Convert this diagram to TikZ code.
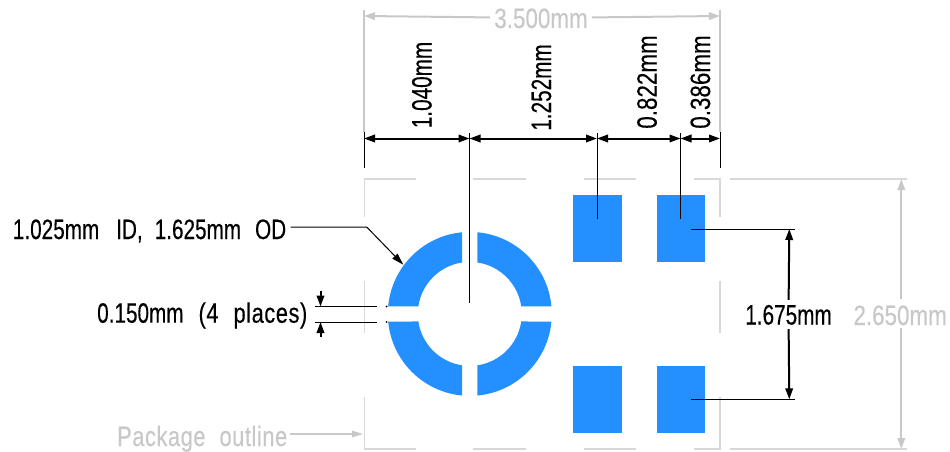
\documentclass[tikz,border=0pt]{standalone}
\usepackage{fontspec}
\setmainfont[FakeStretch=0.74,FakeBold=0.3]{Liberation Sans}
\newfontfamily\widerface[FakeStretch=0.80,FakeBold=0.3]{Liberation Sans}
\newfontfamily\wordface[FakeStretch=0.78,FakeBold=0.3,LetterSpace=2]{Liberation Sans}
\usetikzlibrary{arrows.meta}
\definecolor{padblue}{HTML}{2490FF}
\definecolor{lightdim}{HTML}{C8C8C8}
\definecolor{outl}{HTML}{D8D8D8}
\tikzset{
  x=1pt,y=-1pt,
  pad/.style={fill=padblue,draw=none},
  ext/.style={black,line width=1pt},
  dimline/.style={black,line width=2pt,{Triangle[length=11pt,width=7.5pt]}-{Triangle[length=11pt,width=7.5pt]}},
  dimhalf/.style={black,line width=2pt,{Triangle[length=11pt,width=7.5pt]}-},
  greyhalf/.style={lightdim,line width=2pt,{Triangle[length=11pt,width=7.5pt]}-},
  outline/.style={outl,line width=1.5pt},
  txt/.style={font=\fontsize{28}{28}\selectfont,inner sep=0pt,text height=20pt,text depth=0pt},
  gaptxt/.style={txt,inner xsep=4pt,inner ysep=4.5pt},
  greytxt/.style={text=lightdim},
}
\begin{document}
\begin{tikzpicture}
\useasboundingbox (0,0) rectangle (950,452);
% package outline, broken
\draw[outline] (415.7,179) -- (364.5,179) -- (364.5,216.7);
\draw[outline] (473,179) -- (525.7,179);
\draw[outline] (584,179) -- (636,179);
\draw[outline] (694,179) -- (720,179) -- (720,216.7);
\draw[outline] (730,179) -- (906.7,179);
\draw[outline] (364.5,280.7) -- (364.5,332.7);
\draw[outline] (720,280.7) -- (720,332.7);
\draw[outline] (364.5,397) -- (364.5,449) -- (415.7,449);
\draw[outline] (473,449) -- (525.7,449);
\draw[outline] (584,449) -- (636,449);
\draw[outline] (694,449) -- (720,449) -- (720,397);
\draw[outline] (730,449) -- (906.7,449);
% pads
\node[pad,inner sep=0pt,minimum width=49pt,minimum height=66.7pt] (padtl) at (597.5,228.35) {};
\node[pad,inner sep=0pt,minimum width=48pt,minimum height=66.7pt] (padtr) at (681,228.35) {};
\node[pad,inner sep=0pt,minimum width=49pt,minimum height=67pt] (padbl) at (597.5,399.5) {};
\node[pad,inner sep=0pt,minimum width=48pt,minimum height=67pt] (padbr) at (681,399.5) {};
% ring
\begin{scope}[shift={(469.8,313.9)},x=1pt,y=1pt]
\foreach \r in {0,90,180,270}{
  \fill[padblue,rotate=\r] (5.32:82pt) arc[start angle=5.32,end angle=84.68,radius=82pt]
    -- (81.6:52pt) arc[start angle=81.6,end angle=8.4,radius=52pt] -- cycle;
}
\end{scope}
% coordinates
\coordinate (xa) at (364,138.5);
\coordinate (xb) at (469.5,138.5);
\coordinate (xc) at (597,138.5);
\coordinate (xd) at (680.5,138.5);
\coordinate (xe) at (720,138.5);
\coordinate (ga) at (364,16);
\coordinate (gb) at (720,16);
\coordinate (gc) at (901.3,179);
\coordinate (gd) at (901.3,449);
\coordinate (va) at (789.3,229);
\coordinate (vb) at (789.3,399.3);
% labels
\node[txt,rotate=90] (l1040) at (421.5,85) {1.040mm};
\node[txt,rotate=90] (l1252) at (541,87.5) {1.252mm};
\node[txt,rotate=90] (l822) at (646.7,82) {\widerface 0.822mm};
\node[txt,rotate=90] (l386) at (700,82) {\widerface 0.386mm};
\node[gaptxt,greytxt] (l3500) at (541,18) {\widerface 3.500mm};
\node[gaptxt] (l1675) at (788.5,314.5) {1.675mm};
\node[txt,greytxt,anchor=east,inner sep=0pt] (l2650) at (947,315) {\widerface 2.650mm};
\node[txt,anchor=west] (lring) at (12.7,229) {1.025mm\hspace{17pt}ID,\hspace{12pt}1.625mm\hspace{14pt}OD};
\node[txt,anchor=west] (lgap) at (97,312.7) {0.150mm\hspace{15pt}{\wordface (4}\hspace{15pt}{\wordface places)}};
\node[txt,greytxt,anchor=west] (lpkg) at (117,436) {\wordface Package\hspace{14pt}outline};
% overall dims
\draw[lightdim,line width=1.2pt] (ga |- 0,10) -- (ga |- 0,132);
\draw[lightdim,line width=1.2pt] (gb |- 0,10) -- (gb |- 0,132);
\draw[greyhalf] (ga) -- (l3500);
\draw[greyhalf] (gb) -- (l3500);
\node[minimum width=2pt,minimum height=29pt,inner sep=0pt] (gapg) at (901.3,313.5) {};
\draw[greyhalf] (gc) -- (gapg);
\draw[greyhalf] (gd) -- (gapg);
% black extension lines
\draw[ext] (364,132) -- (364,168);
\draw[ext] (720,132) -- (720,168);
\draw[ext] (469.5,133) -- (469.5,303);
\draw[ext] (597,133) -- (597,219);
\draw[ext] (680.5,133) -- (680.5,219);
\draw[ext] (691,229) -- (795,229);
\draw[ext] (691,399.3) -- (795,399.3);
% black dims
\draw[dimline] (xa) -- (xb);
\draw[dimline] (xb) -- (xc);
\draw[dimline] (xc) -- (xd);
\draw[dimline] (xd) -- (xe);
\draw[dimhalf] (va) -- (l1675);
\draw[dimhalf] (vb) -- (l1675);
% leader
\coordinate (ring) at (403.3,264.7);
\coordinate (lbend) at (366.7,227);
\coordinate (lstart) at (290.7,227);
\draw[black,line width=1pt,{Triangle[length=12pt,width=7pt]}-] (ring) -- (lbend) -- (lstart);
% gap dimension
\draw[ext] (315,306.5) -- (376.7,306.5);
\draw[ext] (315,322) -- (376.7,322);
\fill (386.7,306.5) circle[radius=1pt];
\fill (386.7,322) circle[radius=1pt];
\coordinate (ta) at (320.5,306.5);
\coordinate (tb) at (320.5,290.7);
\coordinate (tc) at (320.5,322);
\coordinate (td) at (320.5,337);
\draw[dimhalf] (ta) -- (tb);
\draw[dimhalf] (tc) -- (td);
% package pointer
\coordinate (pk) at (363,434);
\draw[lightdim,line width=1.2pt,{Triangle[length=11pt,width=6.5pt]}-] (pk) -- (290,434);
\end{tikzpicture}
\end{document}
